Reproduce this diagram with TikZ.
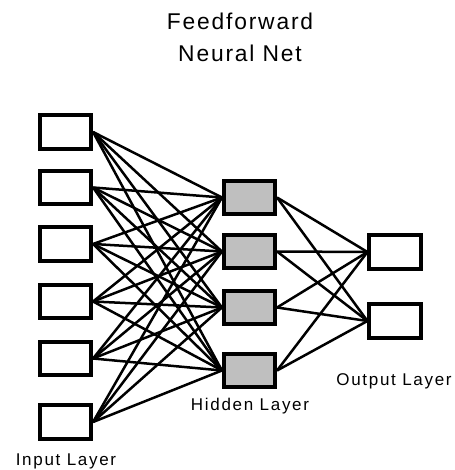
\documentclass[tikz,border=0pt]{standalone}
\usepackage{fontspec}
\usetikzlibrary{backgrounds}
\setmainfont{Liberation Sans}
\newfontfamily\labfont[LetterSpace=10]{Liberation Sans}
\newfontfamily\ttlfont[LetterSpace=8]{Liberation Sans}
\begin{document}
\begin{tikzpicture}[x=1bp,y=-1bp,
  unit/.style={draw=black,line width=3.6bp,minimum width=51.5bp,minimum height=33.5bp,inner sep=0pt,fill=white},
  hid/.style={unit,fill=gray!50},
  link/.style={line width=2.5bp},
  lab/.style={font=\labfont\fontsize{17bp}{20bp}\selectfont,inner sep=0pt},
  ttl/.style={font=\ttlfont\fontsize{22.8bp}{32bp}\selectfont,align=center,inner sep=0pt}]
\useasboundingbox (0,0) rectangle (455,470);
% title
\node[ttl] (title) at (240,37) {Feedforward\\Neural Net};
% input layer
\foreach \i/\y in {1/132,2/187.5,3/244,4/301.5,5/358.5,6/422}
  \node[unit] (in\i) at (65.5,\y) {};
% hidden layer
\foreach \j/\y in {1/197.5,2/251.5,3/307.5,4/370.5}
  \node[hid] (h\j) at (249.5,\y) {};
% output layer
\foreach \k/\y in {1/252,2/321}
  \node[unit] (out\k) at (395,\y) {};
% connections, kept behind the boxes
\begin{pgfonlayer}{background}
\foreach \i in {1,...,6}
  \foreach \j in {1,...,4}
    \draw[link] (in\i.east) -- (h\j.west);
\foreach \j in {1,...,4}
  \foreach \k in {1,2}
    \draw[link] (h\j.east) -- (out\k.west);
\end{pgfonlayer}
% layer captions
\node[lab] (linput) at (66,461) {Input Layer};
\node[lab] (lhidden) at (250,406) {Hidden Layer};
\node[lab] (loutput) at (394,381) {Output Layer};
\end{tikzpicture}
\end{document}
